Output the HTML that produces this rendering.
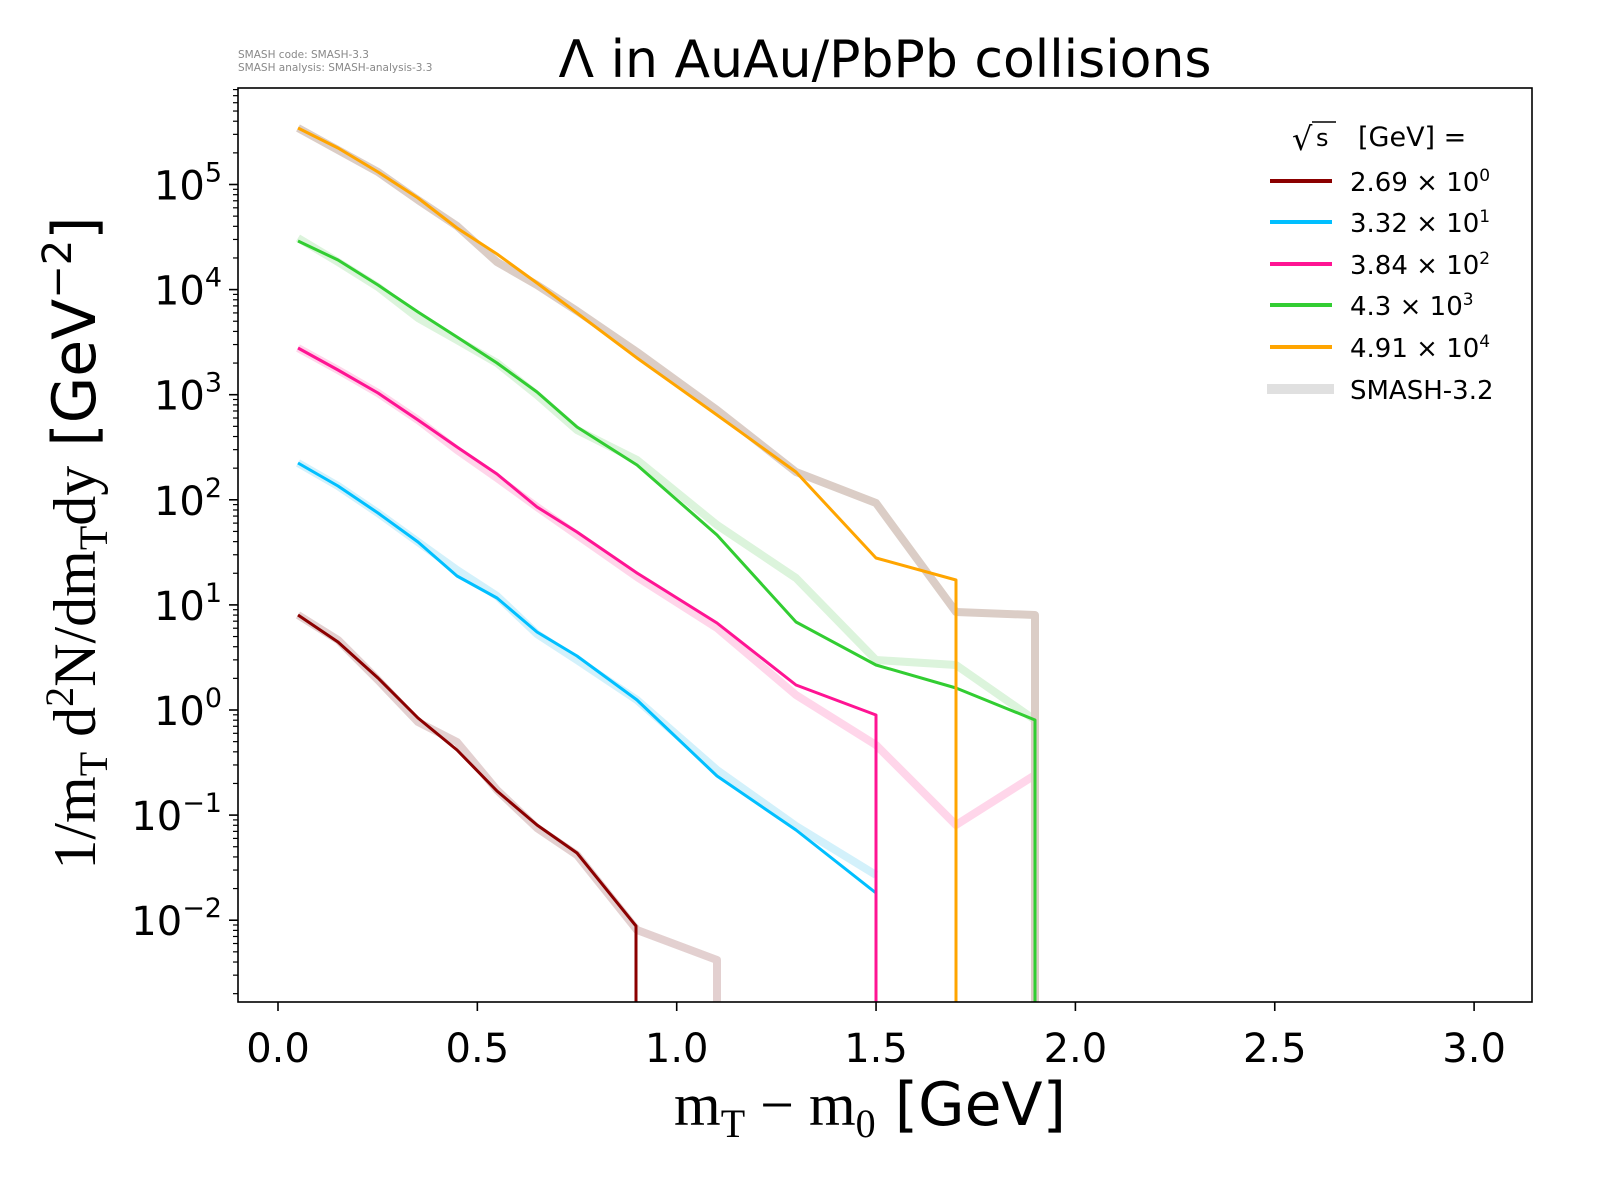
<!DOCTYPE html>
<html><head><meta charset="utf-8"><style>
body{margin:0;background:#fff}
svg{display:block}
text{font-family:"DejaVu Sans","Liberation Sans",sans-serif}
</style></head><body>
<svg id="s" width="1600" height="1200" viewBox="0 0 1600 1200" xmlns="http://www.w3.org/2000/svg">
<rect width="1600" height="1200" fill="#fff"/>
<text x="238" y="58" font-size="10.5" fill="#888">SMASH code:      SMASH-3.3</text>
<text x="238" y="71" font-size="10.5" fill="#888">SMASH analysis: SMASH-analysis-3.3</text>
<text x="885" y="77" font-size="52" text-anchor="middle">Λ in AuAu/PbPb collisions</text>
<g fill="none" stroke-linejoin="round" stroke-width="8">
<polyline stroke="#e3d0d0" points="298,615 338,640 378,680 418,722 457,742 497,790 537,828 577,855 637,930 717,960 717,1002"/>
<polyline stroke="#d3f1fb" points="298,463 338,486 378,513 418,542 457,570 497,596 537,634 577,660 637,700 717,770 796,826 876,875"/>
<polyline stroke="#ffd6ea" points="298,348 338,370 378,393 418,420 457,450 497,478 537,507 577,535 637,577 717,628 796,695 876,745 956,825 1035,775"/>
<polyline stroke="#dcf4dc" points="298,238 338,262 378,287 418,318 457,340 497,363 537,395 577,430 637,460 717,525 796,578 876,660 956,665 1035,720"/>
<polyline stroke="#dbcdc6" points="298,128 338,150 378,172 418,200 457,226 497,262 537,285 577,311 637,352 717,410 796,472 876,503 956,612 1035,615 1035,1002"/>
</g>
<g fill="none" stroke-linejoin="round" stroke-width="3">
<polyline stroke="#8b0000" points="298,615 338,642 378,678 418,718 457,750 497,791 537,825 577,853 636,926 636,1002"/>
<polyline stroke="#00bfff" points="298,463 338,486 378,513 418,542 457,576 497,598 537,632 577,656 637,700 717,776 796,830 876,893 876,1002"/>
<polyline stroke="#ff1493" points="298,348 338,370 378,393 418,420 457,447 497,474 537,507 577,532 637,573 717,623 796,685 876,715 876,1002"/>
<polyline stroke="#32cd32" points="298,241 338,260 378,285 418,312 457,337 497,363 537,392 577,427 637,465 717,535 796,622 876,665 956,688 1035,720 1035,1002"/>
<polyline stroke="#ffa500" points="298,128 338,148 378,172 418,198 457,228 497,254 537,283 577,313 637,358 717,415 796,472 876,558 956,580 956,1002"/>
</g>
<rect x="238" y="88" width="1294" height="914" fill="none" stroke="#000" stroke-width="1.6"/>
<g id="ticks" stroke="#000"></g>
<g id="lbl" font-size="40"></g>
<text x="1292" y="150" font-size="32" font-family="DejaVu Sans,sans-serif">√</text>
<text x="1316" y="146" font-size="24" font-family="Liberation Serif,serif">s</text>
<line x1="1312" x2="1336" y1="122" y2="122" stroke="#000" stroke-width="1.5"/>
<text x="1358" y="146" font-size="27">[GeV] =</text>
<g stroke-width="4">
<line x1="1270" x2="1332" y1="181" y2="181" stroke="#8b0000"/>
<line x1="1270" x2="1332" y1="222" y2="222" stroke="#00bfff"/>
<line x1="1270" x2="1332" y1="264" y2="264" stroke="#ff1493"/>
<line x1="1270" x2="1332" y1="305" y2="305" stroke="#32cd32"/>
<line x1="1270" x2="1332" y1="347" y2="347" stroke="#ffa500"/>
<line x1="1267" x2="1334" y1="389" y2="389" stroke="#e0e0e0" stroke-width="10"/>
</g>
<g font-size="26">
<text x="1350" y="191">2.69 × 10<tspan dy="-10" font-size="17">0</tspan></text>
<text x="1350" y="232">3.32 × 10<tspan dy="-10" font-size="17">1</tspan></text>
<text x="1350" y="274">3.84 × 10<tspan dy="-10" font-size="17">2</tspan></text>
<text x="1350" y="315">4.3 × 10<tspan dy="-10" font-size="17">3</tspan></text>
<text x="1350" y="357">4.91 × 10<tspan dy="-10" font-size="17">4</tspan></text>
<text x="1350" y="399">SMASH-3.2</text>
</g>
<text x="870" y="1125" font-size="60" text-anchor="middle"><tspan font-family="Liberation Serif,serif">m<tspan font-size="40" dy="12">T</tspan><tspan dy="-12"> − m</tspan><tspan font-size="40" dy="12">0</tspan></tspan><tspan dy="-12"> [GeV]</tspan></text>
<text transform="translate(95,543) rotate(-90)" font-size="60" text-anchor="middle"><tspan font-family="Liberation Serif,serif">1/m<tspan font-size="40" dy="12">T</tspan><tspan dy="-12"> d</tspan><tspan font-size="40" dy="-22">2</tspan><tspan dy="22">N/dm</tspan><tspan font-size="40" dy="12">T</tspan><tspan dy="-12">dy</tspan></tspan> [GeV<tspan font-size="40" dy="-24">−2</tspan><tspan dy="24">]</tspan></text>
</svg>
<script>
var t=document.getElementById('ticks'),l=document.getElementById('lbl'),ns='http://www.w3.org/2000/svg';
function ln(x1,y1,x2,y2,w){var e=document.createElementNS(ns,'line');e.setAttribute('x1',x1);e.setAttribute('y1',y1);e.setAttribute('x2',x2);e.setAttribute('y2',y2);e.setAttribute('stroke-width',w);t.appendChild(e);}
function tx(x,y,s,a){var e=document.createElementNS(ns,'text');e.setAttribute('x',x);e.setAttribute('y',y);e.setAttribute('text-anchor',a);e.innerHTML=s;l.appendChild(e);}
for(var i=0;i<=6;i++){var x=278+i*0.5*398.7;ln(x,1002,x,1011,1.6);tx(x,1062,(i*0.5).toFixed(1),'middle');}
var D=105.1,y0=710;
for(var d=-3;d<=5;d++){var y=y0-d*D;if(y<=1002&&y>=88){ln(238,y,229,y,1.6);var s=d<0?'−'+(-d):''+d;tx(222,y+15,'10<tspan dy="-18" font-size="27">'+s+'</tspan>','end');}
for(var k=2;k<=9;k++){var yy=y0-(d+Math.log10(k))*D;if(yy<1002&&yy>88)ln(238,yy,233,yy,1.2);}}
</script>
</body></html>
